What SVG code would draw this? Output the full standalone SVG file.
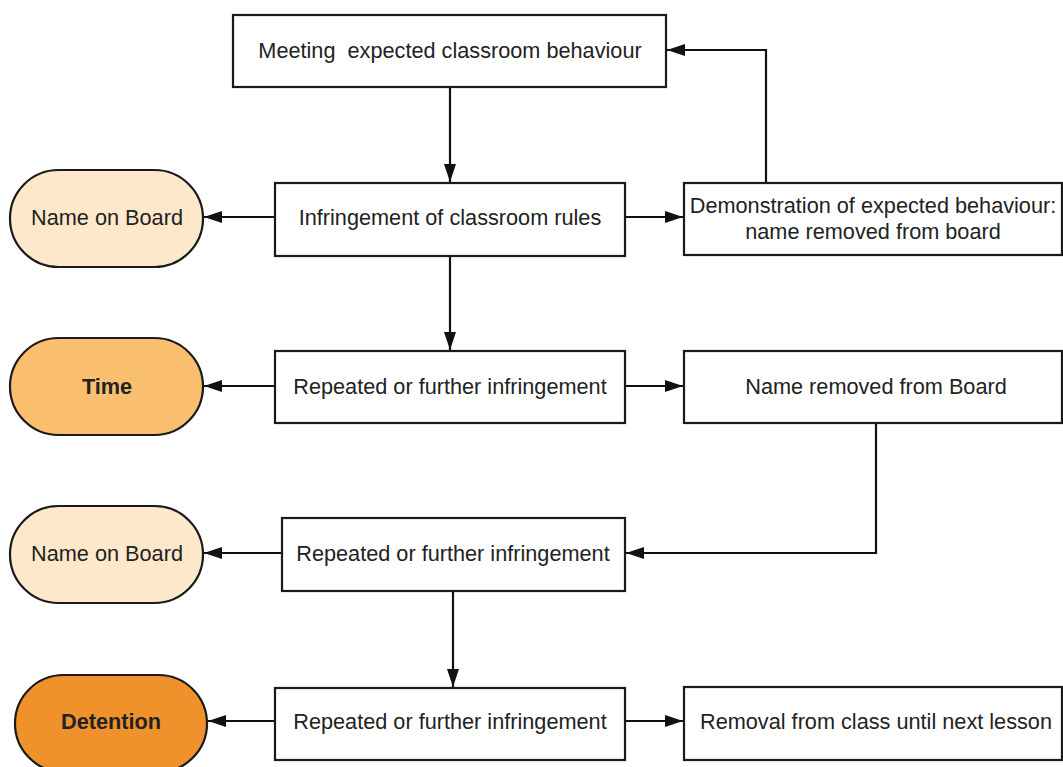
<svg xmlns="http://www.w3.org/2000/svg" width="1063" height="767" viewBox="0 0 1063 767">
<defs>
<marker id="ah" viewBox="0 0 18 12" refX="18" refY="6" markerWidth="18" markerHeight="12" markerUnits="userSpaceOnUse" orient="auto">
<path d="M0,0 L18,6 L0,12 z" fill="#111"/>
</marker>
<style>
.box{fill:#fff;stroke:#1a1a1a;stroke-width:2.2}
.pill{stroke:#1a1a1a;stroke-width:2.2}
.t{font-family:"Liberation Sans",Arial,sans-serif;font-size:21.7px;fill:#222;text-anchor:middle;dominant-baseline:central;white-space:pre}
.b{font-weight:bold}
.c{fill:none;stroke:#111;stroke-width:2.2;marker-end:url(#ah)}
</style>
</defs>
<rect width="1063" height="767" fill="#fff"/>
<g id="connectors">
<path class="c" d="M450,87 V182"/>
<path class="c" d="M766,183 V50 H667"/>
<path class="c" d="M275,217 H204"/>
<path class="c" d="M625,217 H683"/>
<path class="c" d="M450,256 V350"/>
<path class="c" d="M275,386 H204"/>
<path class="c" d="M625,386 H683"/>
<path class="c" d="M876,423 V553 H626"/>
<path class="c" d="M282,553 H204"/>
<path class="c" d="M453,591 V687"/>
<path class="c" d="M275,721 H208"/>
<path class="c" d="M625,721 H683"/>
</g>
<g id="n-meeting"><rect class="box" x="233" y="15" width="433" height="72"/><text class="t" x="450" y="50" xml:space="preserve">Meeting  expected classroom behaviour</text></g>
<g id="n-infringement"><rect class="box" x="275" y="183" width="350" height="73"/><text class="t" x="450" y="217">Infringement of classroom rules</text></g>
<g id="n-demonstration"><rect class="box" x="684" y="183" width="378" height="72"/><text class="t" x="873" y="205">Demonstration of expected behaviour:</text><text class="t" x="873" y="231">name removed from board</text></g>
<g id="n-name1"><rect class="pill" x="10" y="170" width="193" height="97" rx="48.5" fill="#fde8cc"/><text class="t" x="107" y="217">Name on Board</text></g>
<g id="n-repeat1"><rect class="box" x="275" y="351" width="350" height="72"/><text class="t" x="450" y="386">Repeated or further infringement</text></g>
<g id="n-time"><rect class="pill" x="10" y="338" width="193" height="97" rx="48.5" fill="#f9bf6e"/><text class="t b" x="107" y="386">Time</text></g>
<g id="n-removed"><rect class="box" x="684" y="351" width="378" height="72"/><text class="t" x="876" y="386">Name removed from Board</text></g>
<g id="n-repeat2"><rect class="box" x="282" y="518" width="343" height="73"/><text class="t" x="453" y="553">Repeated or further infringement</text></g>
<g id="n-name2"><rect class="pill" x="10" y="506" width="193" height="97" rx="48.5" fill="#fde8cc"/><text class="t" x="107" y="553">Name on Board</text></g>
<g id="n-repeat3"><rect class="box" x="275" y="688" width="350" height="72"/><text class="t" x="450" y="721">Repeated or further infringement</text></g>
<g id="n-detention"><rect class="pill" x="15" y="675" width="192" height="97" rx="48.5" fill="#f0922c"/><text class="t b" x="111" y="721">Detention</text></g>
<g id="n-removal"><rect class="box" x="684" y="687" width="378" height="73"/><text class="t" x="876" y="721">Removal from class until next lesson</text></g>
</svg>
